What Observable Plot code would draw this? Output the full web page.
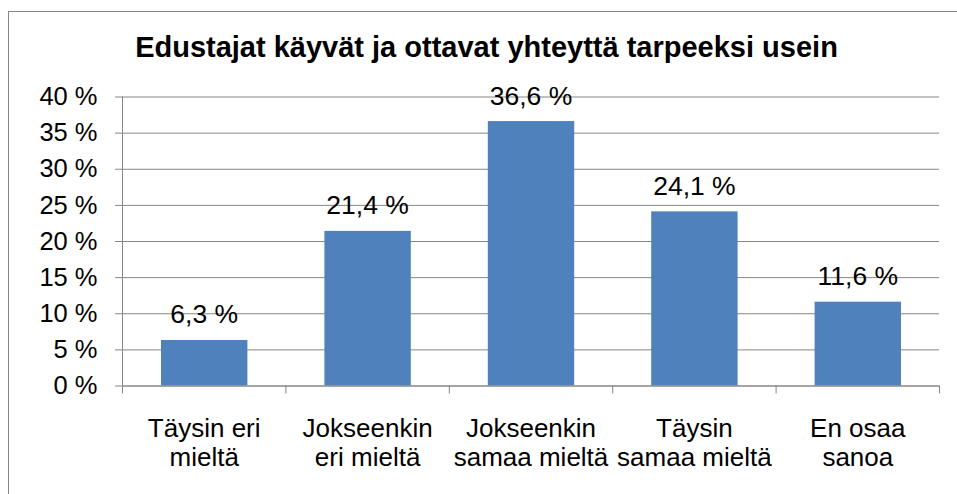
<!DOCTYPE html>
<html>
<head>
<meta charset="utf-8">
<script src="https://cdn.jsdelivr.net/npm/d3@7"></script>
<script src="https://cdn.jsdelivr.net/npm/@observablehq/plot@0.6"></script>
<style>
  html, body { margin: 0; padding: 0; background: #fff; overflow: hidden; }
  #wrap { position: relative; width: 957px; height: 494px; overflow: hidden; font-family: "Liberation Sans", Arial, sans-serif; }
  #frame { position: absolute; left: 8px; top: 11px; width: 1000px; height: 600px; border-top: 1px solid #868686; border-left: 1px solid #868686; }
  #title { position: absolute; left: 0; top: 33px; width: 957px; padding-left: 16px; box-sizing: border-box; text-align: center; font-size: 29px; line-height: 29px; font-weight: bold; color: #000; white-space: nowrap; }
  #chart { position: absolute; left: 0; top: 80px; }
</style>
</head>
<body>
<div id="wrap">
  <div id="frame"></div>
  <div id="title">Edustajat käyvät ja ottavat yhteyttä tarpeeksi usein</div>
  <div id="chart"></div>
</div>
<script>
const categories = ["Täysin eri\nmieltä", "Jokseenkin\neri mieltä", "Jokseenkin\nsamaa mieltä", "Täysin\nsamaa mieltä", "En osaa\nsanoa"];
const values = [6.3, 21.4, 36.6, 24.1, 11.6];
const yTicks = [0, 5, 10, 15, 20, 25, 30, 35, 40];
const boundaries = [0, 1, 2, 3, 4, 5];

const table = categories.map((c, i) => ({ category: c, value: values[i], i0: i, i1: i + 1, mid: i + 0.5 }));
const gray = "#868686";

const chart = Plot.plot({
  width: 957,
  height: 414,
  marginLeft: 122,
  marginRight: 18,
  marginTop: 16.5,
  marginBottom: 108.5,
  style: { fontFamily: "'Liberation Sans', Arial, sans-serif", fontSize: "25px", color: "#000", background: "transparent", overflow: "visible" },
  x: { type: "linear", domain: [0, 5], label: null },
  y: { domain: [0, 40], label: null },
  marks: [
    Plot.gridY(yTicks, { stroke: gray, strokeOpacity: 1, strokeWidth: 1 }),
    Plot.axisY({ ticks: yTicks, tickSize: 7, tickPadding: 18, tickFormat: d => d + " %", stroke: gray, strokeOpacity: 1, fill: "#000", label: null, fontSize: 25.5 }),
    Plot.rectY(table, { x1: "i0", x2: "i1", y: "value", insetLeft: 39, insetRight: 38, fill: "#4f81bd" }),
    Plot.ruleX([0], { stroke: gray, strokeWidth: 1 }),
    Plot.ruleY([0], { stroke: gray, strokeWidth: 1 }),
    Plot.axisX({ ticks: boundaries, tickSize: 8, tickFormat: () => "", stroke: gray, strokeOpacity: 1, label: null }),
    Plot.text(table, { x: "mid", y: "value", text: d => d.value.toFixed(1).replace(".", ",") + " %", lineAnchor: "bottom", dy: -17, fontSize: 26.5, fill: "#000" }),
    Plot.text(table, { x: "mid", y: () => 0, text: "category", lineAnchor: "top", lineHeight: 1.115, dy: 30, fontSize: 26, fill: "#000" })
  ]
});
document.getElementById("chart").appendChild(chart);
</script>
</body>
</html>
